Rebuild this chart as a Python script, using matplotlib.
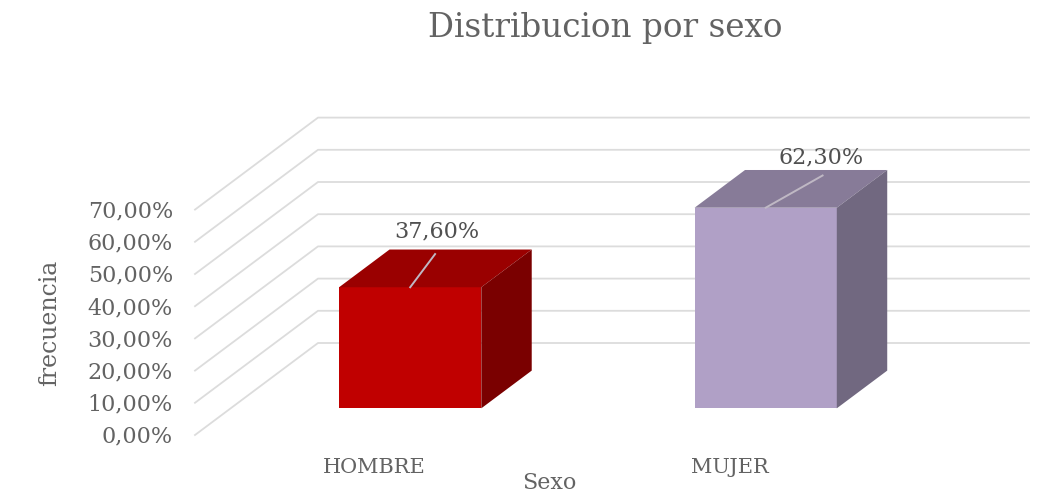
import numpy as np
import matplotlib
matplotlib.use('Agg')
import matplotlib.pyplot as plt
from matplotlib.patches import Polygon

categorias = ['HOMBRE', 'MUJER']
valores = [37.6, 62.3]
etiquetas = ['37,60%', '62,30%']
ticks = [0, 10, 20, 30, 40, 50, 60, 70]
tick_labels = ['0,00%', '10,00%', '20,00%', '30,00%', '40,00%', '50,00%', '60,00%', '70,00%']

plt.rcParams['font.family'] = ['DejaVu Serif']
texto = '#636363'

W, H = 1061, 501
fig = plt.figure(figsize=(W/100, H/100), dpi=100)
ax = fig.add_axes([0, 0, 1, 1])
# 1 unidad x = una categoria (355.5 px), y en porcentaje (3.22 px por punto)
ax.set_xlim(-195/355.5, (W-195)/355.5)
ax.set_ylim((435-H)/3.22, 435/3.22)
ax.axis('off')

# desplazamiento de profundidad (fondo completo) en unidades de datos
dx, dy = 123/355.5, 92/3.22

def pr(x, y, d):
    return (x + d*dx, y + d*dy)

# rejilla: suelo/pared izquierda y pared del fondo
for t in ticks:
    x0, y0 = pr(0, t, 0)
    x1, y1 = pr(0, t, 1)
    x2, y2 = pr(2, t, 1)
    ax.plot([x0, x1, x2], [y0, y1, y2], color='#dcdcdc', lw=1.3, zorder=1)

# barras 3D
d0, d1 = 0.29, 0.70
ancho = 0.40
caras = [('#c00000', '#9a0000', '#7a0000'), ('#b0a0c6', '#877b98', '#716880')]
# fin de la linea guia y centro de la etiqueta, relativos a la cara frontal
guia = [(0.07, 10.3), (0.16, 10.0)]
pos_etq = [(0.075, 17.3), (0.155, 15.5)]
for i, v in enumerate(valores):
    xc = i + 0.505
    xa, xb = xc - ancho/2, xc + ancho/2
    front, top, side = caras[i]
    ax.add_patch(Polygon([pr(xa, 0, d0), pr(xb, 0, d0), pr(xb, v, d0), pr(xa, v, d0)], fc=front, ec='none', zorder=3))
    ax.add_patch(Polygon([pr(xa, v, d0), pr(xb, v, d0), pr(xb, v, d1), pr(xa, v, d1)], fc=top, ec='none', zorder=3))
    ax.add_patch(Polygon([pr(xb, 0, d0), pr(xb, 0, d1), pr(xb, v, d1), pr(xb, v, d0)], fc=side, ec='none', zorder=3))
    # linea guia de la etiqueta
    px, py = pr(xc, v, d0)
    ax.plot([px, px + guia[i][0]], [py, py + guia[i][1]], color='#bfb8c4', lw=1.4, zorder=4)
    ax.text(px + pos_etq[i][0], py + pos_etq[i][1], etiquetas[i], ha='center', va='center',
            fontsize=16, color='#505050', zorder=5)
    ax.text(i + 0.505, -10, categorias[i], ha='center', va='center', fontsize=15, color=texto)

for t, lab in zip(ticks, tick_labels):
    ax.text(-0.062, t - 0.6, lab, ha='right', va='center', fontsize=16, color=texto)

ax.text(-0.408, 34.8, 'frecuencia', rotation=90, ha='center', va='center', fontsize=17, color=texto)
ax.text(0.998, -15, 'Sexo', ha='center', va='center', fontsize=16, color=texto)
ax.text(1.154, 126.4, 'Distribucion por sexo', ha='center', va='center', fontsize=23.5, color=texto)

fig.savefig('out.png', dpi=100)
